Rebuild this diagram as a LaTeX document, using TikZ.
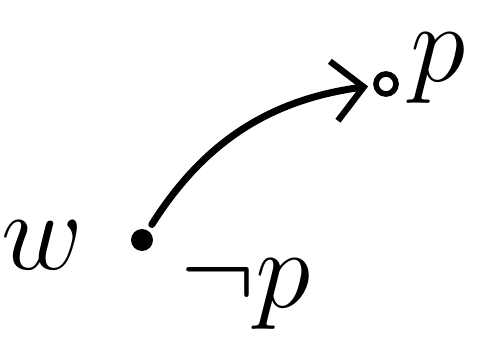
\RequirePackage{fix-cm}
\documentclass[tikz,border=0pt]{standalone}
\usetikzlibrary{arrows.meta,positioning}

\begin{document}
\begin{tikzpicture}[
    x=0.02cm, y=-0.02cm,
    every node/.style={font=\fontsize{64}{64}\selectfont},
    world/.style={circle, fill=black, inner sep=0pt, minimum size=0.44cm},
    ringworld/.style={circle, draw=black, line width=3.2pt, inner sep=0pt, minimum size=0.4cm},
    label/.style={inner sep=0pt},
    access/.style={-{Straight Barb[length=6mm, width=12mm, line width=3.6pt]}, line width=4pt, line cap=round}
]
\useasboundingbox (0,0) rectangle (477,344);
\node[world] (w) at (142,240) {};
\node[ringworld] (v) at (386,84) {};
\node[label] (wname) at (42,245) {$w$};
\node[label, anchor=base west] (notp) at (180,308) {$\neg p$};
\node[label, anchor=base west] (p) at (410,82) {$p$};
\draw[access, shorten <=4pt, shorten >=3pt] (w) to[bend left=25] (v);
\end{tikzpicture}
\end{document}
